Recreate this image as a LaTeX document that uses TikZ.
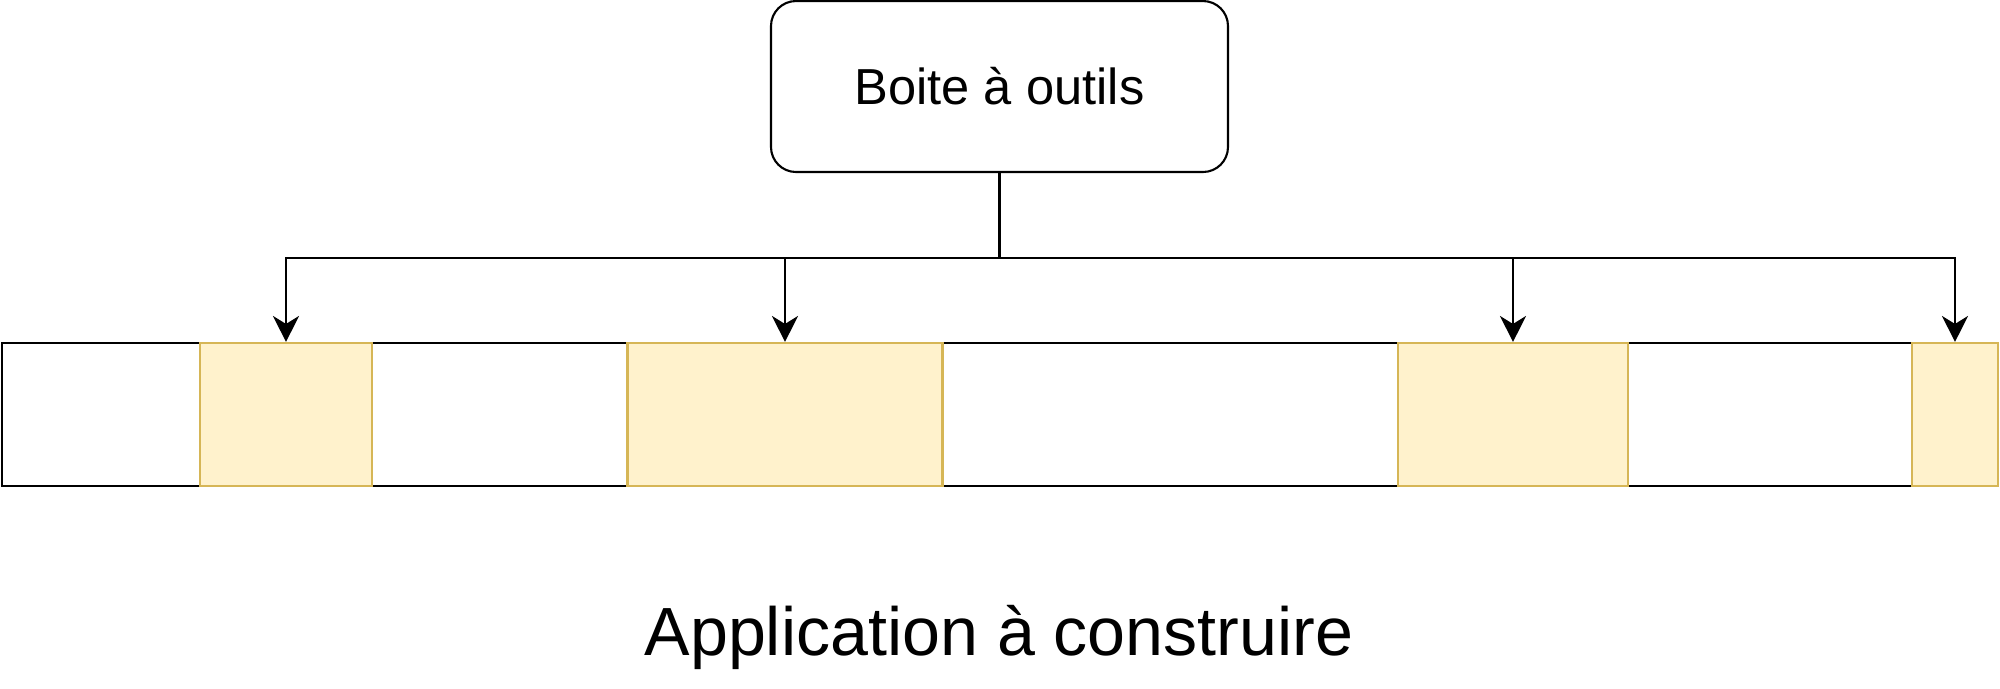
\documentclass[tikz,border=0pt]{standalone}
\usepackage{fontspec}
\setmainfont{Liberation Sans}
\usetikzlibrary{arrows.meta}
\definecolor{partfill}{HTML}{FFF2CC}
\definecolor{partline}{HTML}{D6B656}
\tikzset{
  toolbox/.style={draw, rounded corners=2.5mm, line width=0.6pt, minimum width=45.7mm, minimum height=17.1mm, inner sep=0pt, font=\fontsize{14.4}{17}\selectfont},
  appbar/.style={draw, line width=0.6pt, minimum width=199.6mm, minimum height=14.3mm, inner sep=0pt},
  part/.style={draw=partline, fill=partfill, line width=0.6pt, minimum height=14.3mm, inner sep=0pt},
  feed/.style={line width=0.6pt, -{Stealth[length=2.6mm, width=2.6mm, inset=0.8mm]}}
}
\begin{document}
\begin{tikzpicture}[x=0.1mm, y=-0.1mm]
    \useasboundingbox (0,0) rectangle (2000,688);
    \node[toolbox] (tools) at (999.5,86.5) {Boite à outils};
    \node[appbar] (app) at (999.75,414.5) {};
    \node[part, minimum width=17.2mm] (p1) at (286,414.5) {};
    \node[part, minimum width=31.5mm] (p2) at (785,414.5) {};
    \node[part, minimum width=23mm] (p3) at (1513,414.5) {};
    \node[part, minimum width=8.6mm] (p4) at (1955,414.5) {};
    \node[anchor=base, inner sep=0pt, font=\fontsize{19.4}{23}\selectfont] (title) at (999,655) {Application à construire};
    \draw[feed] (tools.south) -- ++(0,85) -| (p1.north);
    \draw[feed] (tools.south) -- ++(0,85) -| (p2.north);
    \draw[feed] (tools.south) -- ++(0,85) -| (p3.north);
    \draw[feed] (tools.south) -- ++(0,85) -| (p4.north);
\end{tikzpicture}
\end{document}
